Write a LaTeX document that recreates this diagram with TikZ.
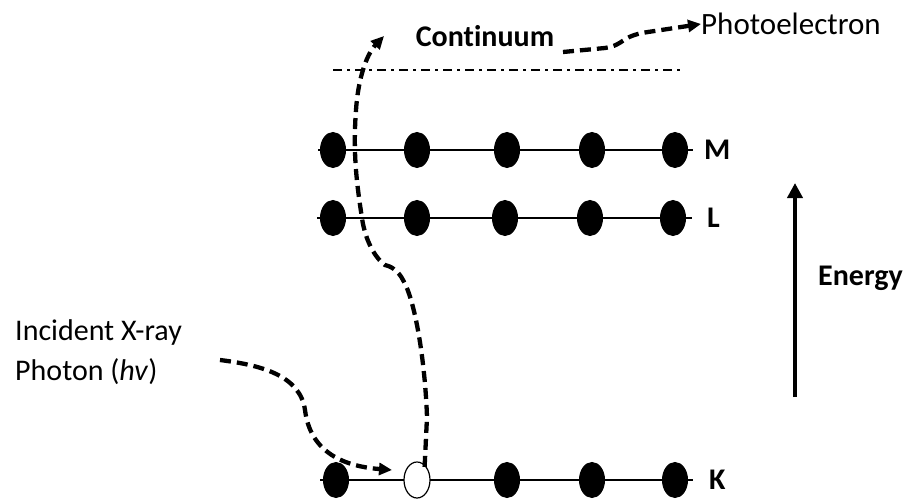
\documentclass[tikz,border=0pt]{standalone}
\usepackage{fontspec}
\setmainfont{Carlito}[Ligatures=NoCommon]
\usetikzlibrary{shapes.geometric,arrows.meta}
\tikzset{
  electron/.style={ellipse,draw=black,fill=black,line width=1pt,minimum width=25pt,minimum height=35pt,inner sep=0pt},
  vacancy/.style={ellipse,draw=black,fill=white,line width=1.2pt,minimum width=26pt,minimum height=36pt,inner sep=0pt},
  shell/.style={line width=2pt},
  shelllabel/.style={font=\bfseries\fontsize{30}{34}\selectfont,anchor=west,inner sep=0pt},
  path dash/.style={line width=4.3pt,dash pattern=on 11pt off 6pt},
  tip/.style={-{Triangle[length=13pt,width=12pt]}},
}
\begin{document}
\begin{tikzpicture}[x=1pt,y=-1pt]
\useasboundingbox (0,0) rectangle (908,500);

% continuum edge
\coordinate (c0) at (333,70);
\coordinate (c1) at (682,70);
\draw[line width=1.8pt,dash pattern=on 9pt off 5pt on 3pt off 5pt] (c0) -- (c1);
\node[font=\bfseries\fontsize{30}{34}\selectfont,inner sep=0pt] (cont) at (485,36) {Continuum};

% M shell
\coordinate (m0) at (318,150);
\coordinate (m1) at (693,150);
\draw[shell] (m0) -- (m1);
\foreach \x [count=\i] in {333,417,507,592,675}
  \node[electron] (m\i e) at (\x,150) {};
\node[shelllabel] (ml) at (704,150) {M};

% L shell
\coordinate (l0) at (317,218);
\coordinate (l1) at (692,218);
\draw[shell] (l0) -- (l1);
\foreach \x [count=\i] in {333,417,505,590,673}
  \node[electron] (l\i e) at (\x,218) {};
\node[shelllabel] (ll) at (707,218) {L};

% K shell with the vacancy
\coordinate (k0) at (320,480);
\coordinate (k1) at (693,480);
\draw[shell] (k0) -- (k1);
\node[electron] (k1e) at (336,480) {};
\node[vacancy] (k2e) at (417,480) {};
\foreach \x [count=\i from 3] in {507,592,675}
  \node[electron] (k\i e) at (\x,480) {};
\node[shelllabel] (kl) at (709,480) {K};

% ejected electron path
\coordinate (up) at (384,36);
\draw[path dash,tip] (k2e.north east) ++(-2pt,0pt) coordinate (ks)
  -- (427,417) .. controls (425,360) and (415,300) .. (403,280)
  .. controls (398,270) and (390,266) .. (385,265)
  .. controls (375,258) and (365,240) .. (362,218)
  .. controls (356,180) and (353,150) .. (356,110)
  .. controls (358,80) and (366,55) .. (up);

% photoelectron leaving
\node[font=\fontsize{31}{34}\selectfont,anchor=west,inner sep=0pt] (pe) at (701,24) {Photoelectron};
\coordinate (ps) at (563,52);
\draw[path dash,tip] (ps) -- (605,48) .. controls (625,45) and (620,36) .. (648,32) -- (pe.west);

% incident photon
\node[font=\fontsize{30}{40}\selectfont,align=left,anchor=base west,inner sep=0pt] (inc) at (15,380) {Incident X-ray\\Photon (\textit{hv})};
\coordinate (ph) at (220,360);
\draw[path dash,tip] (ph) .. controls (260,365) and (300,375) .. (305,410)
  .. controls (310,450) and (340,466) .. (392,470);

% energy axis
\coordinate (e0) at (795,397);
\coordinate (e1) at (795,183);
\draw[line width=3.8pt,-{Triangle[length=15pt,width=15pt]}] (e0) -- (e1);
\node[font=\bfseries\fontsize{30}{34}\selectfont,anchor=west,inner sep=0pt] (en) at (818,278) {Energy};
\end{tikzpicture}
\end{document}
